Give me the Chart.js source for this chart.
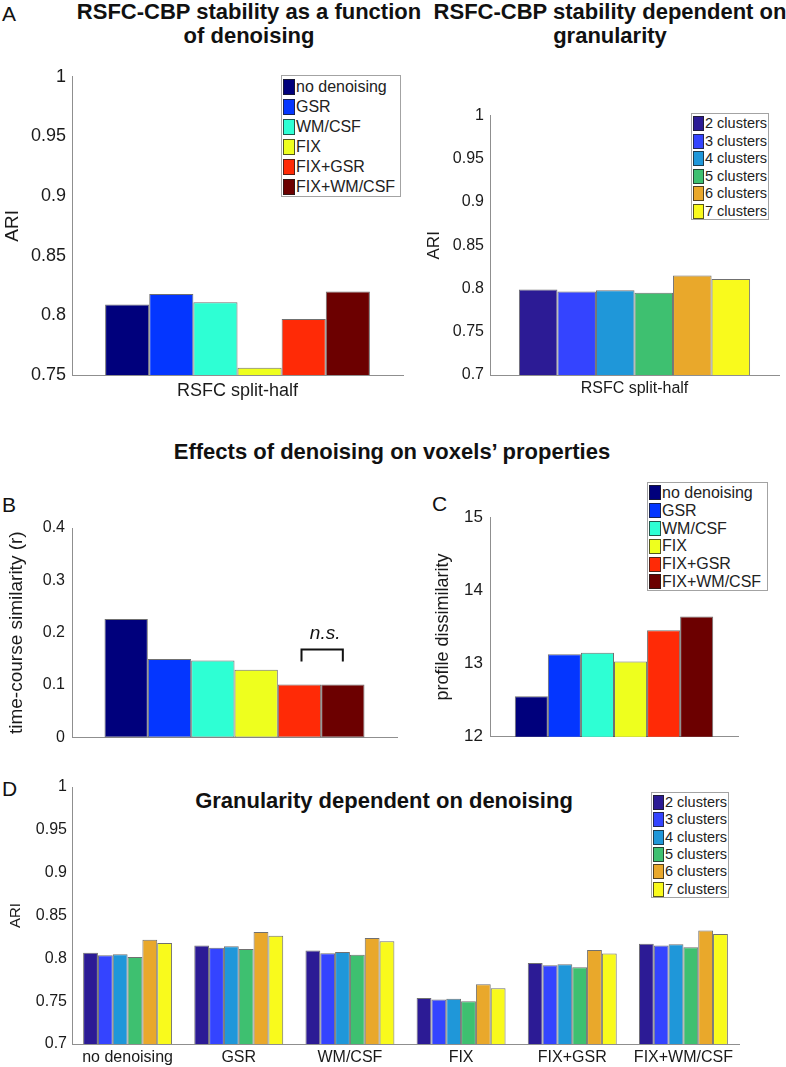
<!DOCTYPE html>
<html><head><meta charset="utf-8">
<script src="https://cdn.jsdelivr.net/npm/chart.js@4.4.1/dist/chart.umd.min.js"></script>
<style>
html,body{margin:0;padding:0;background:#fff;}
body{width:786px;height:1067px;position:relative;overflow:hidden;font-family:'Liberation Sans',Arial,Helvetica,sans-serif;color:#111;}
canvas{position:absolute;}
.t{position:absolute;white-space:nowrap;}
.title{font-weight:bold;font-size:22px;line-height:24px;text-align:center;}
.lab{font-size:21px;line-height:21px;}
.legend{position:absolute;border:1px solid #a3a3a3;background:#fff;box-sizing:border-box;}
.legend .row{position:absolute;left:0;white-space:nowrap;color:#222;}
.legend .sw{position:absolute;box-sizing:border-box;border:1px solid rgba(30,30,30,0.75);}
</style></head><body>
<div class="t lab" style="left:2px;top:3px">A</div>
<div class="t title" style="left:0;top:0;width:498px">RSFC-CBP stability as a function<br>of denoising</div>
<div class="t title" style="left:410px;top:0;width:400px">RSFC-CBP stability dependent on<br>granularity</div>
<div class="t title" style="left:0;top:440px;width:784px">Effects of denoising on voxels’ properties</div>
<div class="t lab" style="left:2px;top:494px">B</div>
<div class="t lab" style="left:432px;top:493px">C</div>
<div class="t lab" style="left:2px;top:778px">D</div>
<div class="t title" style="left:0;top:789px;width:768px">Granularity dependent on denoising</div>

<canvas id="cA1" width="410" height="345" style="left:0;top:60px"></canvas>
<canvas id="cA2" width="376" height="305" style="left:410px;top:100px"></canvas>
<canvas id="cB" width="405" height="244" style="left:0;top:510px"></canvas>
<canvas id="cC" width="340" height="254" style="left:410px;top:500px"></canvas>
<canvas id="cD" width="786" height="297" style="left:0;top:770px"></canvas>

<script>
// ---------- data ----------
const denoisingLabels = ['no denoising', 'GSR', 'WM/CSF', 'FIX', 'FIX+GSR', 'FIX+WM/CSF'];
const clusterLabels = ['2 clusters', '3 clusters', '4 clusters', '5 clusters', '6 clusters', '7 clusters'];
const splitHalfCategory = ['RSFC split-half'];

const ariByDenoising = [0.809, 0.818, 0.811, 0.756, 0.797, 0.820];
const ariByClusters = [0.799, 0.7965, 0.798, 0.795, 0.815, 0.811];
const timeCourseSimilarity = [0.226, 0.150, 0.147, 0.129, 0.101, 0.101];
const profileDissimilarity = [12.555, 13.127, 13.149, 13.03, 13.457, 13.642];

// panel D: one array per cluster number, values across denoising strategies
const ari2clusters = [0.8066, 0.8150, 0.8090, 0.7538, 0.7945, 0.8171];
const ari3clusters = [0.8035, 0.8124, 0.8060, 0.7520, 0.7919, 0.8151];
const ari4clusters = [0.8047, 0.8140, 0.8073, 0.7527, 0.7930, 0.8163];
const ari5clusters = [0.8015, 0.8108, 0.8043, 0.7500, 0.7895, 0.8128];
const ari6clusters = [0.8217, 0.8306, 0.8236, 0.7698, 0.8097, 0.8326];
const ari7clusters = [0.8178, 0.8264, 0.8198, 0.7651, 0.8055, 0.8283];

const yTicksA1 = [0.75, 1, 0.05];
const yTicksA2 = [0.7, 1, 0.05];
const yTicksB = [0, 0.4, 0.1];
const yTicksC = [12, 15, 1];
const yTicksD = [0.7, 1, 0.05];

const denoisingColors = ['#00007c', '#0436ff', '#2effd4', '#eeff1e', '#ff2a06', '#6c0000'];
const clusterColors = ['#2c1b95', '#3444ff', '#1f97d9', '#3ec070', '#e9a82b', '#f9fa1c'];

// ---------- helpers ----------
Chart.defaults.font.family = "'Liberation Sans', Arial, Helvetica, sans-serif";
Chart.defaults.color = '#1a1a1a';
const AXIS = '#8f8f8f';
const EDGE = 'rgba(35,35,35,0.65)';

function fmt(v) { return String(parseFloat(Number(v).toFixed(3))); }

function yScale(range, o) {
  return {
    min: range[0], max: range[1],
    grid: { display: false, drawTicks: false },
    border: { display: true, color: AXIS, width: 1 },
    ticks: { stepSize: range[2], padding: o.tickPad, font: { size: o.tickSize }, color: '#1a1a1a', callback: fmt },
    title: { display: !!o.title, text: o.title, font: { size: o.titleSize }, color: '#1a1a1a', padding: { top: o.titlePad, bottom: 0 } },
    afterFit: s => { s.width = o.width; }
  };
}
function xScale(o) {
  return {
    grid: { display: false, drawTicks: false },
    border: { display: true, color: AXIS, width: 1 },
    ticks: { display: o.showTicks, padding: o.tickPad || 0, font: { size: o.tickSize || 16 }, color: '#1a1a1a', maxRotation: 0, autoSkip: false },
    afterFit: s => { s.height = o.height; }
  };
}
function singleGroupDatasets(labels, values, colors) {
  return labels.map((lab, i) => ({
    label: lab, data: [values[i]], backgroundColor: colors[i],
    borderColor: EDGE, borderWidth: 1, borderSkipped: false,
    categoryPercentage: 0.8, barPercentage: 1
  }));
}
function baseOptions(padding, scales) {
  return {
    responsive: false, animation: false, devicePixelRatio: 1,
    layout: { padding },
    plugins: { legend: { display: false }, tooltip: { enabled: false }, title: { display: false } },
    scales
  };
}
function buildLegend(labels, colors, o) {
  const box = document.createElement('div');
  box.className = 'legend';
  Object.assign(box.style, { left: o.left + 'px', top: o.top + 'px', width: o.w + 'px', height: o.h + 'px', fontSize: o.font + 'px' });
  labels.forEach((lab, i) => {
    const row = document.createElement('div');
    row.className = 'row';
    Object.assign(row.style, { top: (o.pad + i * o.rowH) + 'px', height: o.rowH + 'px', lineHeight: o.rowH + 'px', width: '100%' });
    const sw = document.createElement('div');
    sw.className = 'sw';
    Object.assign(sw.style, { left: '1px', top: ((o.rowH - o.swH) / 2) + 'px', width: o.swW + 'px', height: o.swH + 'px', background: colors[i] });
    const tx = document.createElement('span');
    tx.textContent = lab;
    Object.assign(tx.style, { position: 'absolute', left: (o.swW + 2) + 'px', top: '0' });
    row.appendChild(sw); row.appendChild(tx); box.appendChild(row);
  });
  document.body.appendChild(box);
}

// ---------- Panel A left ----------
new Chart(document.getElementById('cA1'), {
  type: 'bar',
  data: { labels: splitHalfCategory, datasets: singleGroupDatasets(denoisingLabels, ariByDenoising, denoisingColors) },
  options: baseOptions({ top: 15, right: 7, bottom: 0, left: 0 }, {
    x: xScale({ showTicks: true, tickPad: 5, tickSize: 18, height: 30 }),
    y: yScale(yTicksA1, { tickPad: 6, tickSize: 18, title: 'ARI', titleSize: 19, titlePad: 1, width: 72 })
  })
});

// ---------- Panel A right ----------
new Chart(document.getElementById('cA2'), {
  type: 'bar',
  data: { labels: splitHalfCategory, datasets: singleGroupDatasets(clusterLabels, ariByClusters, clusterColors) },
  options: baseOptions({ top: 13, right: 7, bottom: 0, left: 0 }, {
    x: xScale({ showTicks: true, tickPad: 4, tickSize: 16, height: 30 }),
    y: yScale(yTicksA2, { tickPad: 6, tickSize: 16, title: 'ARI', titleSize: 17, titlePad: 14, width: 80 })
  })
});

// ---------- Panel B ----------
const nsBracket = {
  id: 'nsBracket',
  afterDatasetsDraw(chart) {
    const a = chart.getDatasetMeta(4).data[0];
    const b = chart.getDatasetMeta(5).data[0];
    if (!a || !b) return;
    const top = Math.min(a.y, b.y);
    const ctx = chart.ctx;
    ctx.save();
    ctx.strokeStyle = '#111';
    ctx.lineWidth = 2;
    ctx.beginPath();
    ctx.moveTo(a.x + 2, top - 23);
    ctx.lineTo(a.x + 2, top - 35);
    ctx.lineTo(b.x, top - 35);
    ctx.lineTo(b.x, top - 23);
    ctx.stroke();
    ctx.fillStyle = '#111';
    ctx.font = "italic 19px 'Liberation Sans', Arial, sans-serif";
    ctx.textAlign = 'center';
    ctx.textBaseline = 'alphabetic';
    ctx.fillText('n.s.', (a.x + b.x) / 2 + 4, top - 46);
    ctx.restore();
  }
};
new Chart(document.getElementById('cB'), {
  type: 'bar',
  data: { labels: [''], datasets: singleGroupDatasets(denoisingLabels, timeCourseSimilarity, denoisingColors) },
  options: baseOptions({ top: 18, right: 8, bottom: 12, left: 0 }, {
    x: xScale({ showTicks: false, height: 0 }),
    y: yScale(yTicksB, { tickPad: 7, tickSize: 16, title: 'time-course similarity (r)', titleSize: 19, titlePad: 5, width: 72 })
  }),
  plugins: [nsBracket]
});

// ---------- Panel C ----------
new Chart(document.getElementById('cC'), {
  type: 'bar',
  data: { labels: [''], datasets: singleGroupDatasets(denoisingLabels, profileDissimilarity, denoisingColors) },
  options: baseOptions({ top: 15, right: 12, bottom: 12, left: 0 }, {
    x: xScale({ showTicks: false, height: 0 }),
    y: yScale(yTicksC, { tickPad: 7, tickSize: 17, title: 'profile dissimilarity', titleSize: 18, titlePad: 22, width: 80 })
  })
});

// ---------- Panel D ----------
const panelDSeries = [ari2clusters, ari3clusters, ari4clusters, ari5clusters, ari6clusters, ari7clusters];
new Chart(document.getElementById('cD'), {
  type: 'bar',
  data: {
    labels: denoisingLabels,
    datasets: clusterLabels.map((lab, i) => ({
      label: lab, data: panelDSeries[i], backgroundColor: clusterColors[i],
      borderColor: EDGE, borderWidth: 1, borderSkipped: false,
      categoryPercentage: 0.8, barPercentage: 1
    }))
  },
  options: baseOptions({ top: 17, right: 47, bottom: 0, left: 0 }, {
    x: xScale({ showTicks: true, tickPad: 4, tickSize: 16, height: 23 }),
    y: yScale(yTicksD, { tickPad: 5, tickSize: 16, title: 'ARI', titleSize: 15, titlePad: 7, width: 72 })
  })
});

// ---------- legends ----------
buildLegend(denoisingLabels, denoisingColors, { left: 281, top: 75, w: 120, h: 122, pad: 1, rowH: 20, swW: 12, swH: 16, font: 16 });
buildLegend(clusterLabels, clusterColors, { left: 691, top: 113, w: 78, h: 107, pad: 1, rowH: 17.5, swW: 11, swH: 15, font: 14.5 });
buildLegend(denoisingLabels, denoisingColors, { left: 647, top: 482, w: 121, h: 109, pad: 1, rowH: 17.8, swW: 12, swH: 15, font: 16 });
buildLegend(clusterLabels, clusterColors, { left: 651, top: 792, w: 78, h: 106, pad: 1, rowH: 17.3, swW: 11, swH: 15, font: 14.5 });
</script>
</body></html>
